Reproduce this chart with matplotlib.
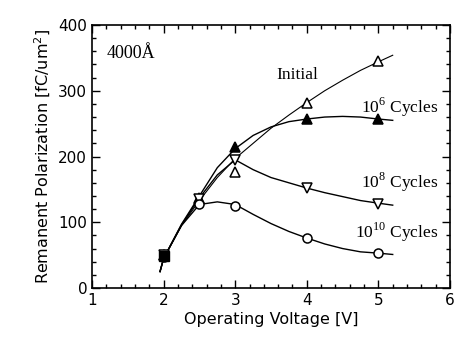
import numpy as np
import matplotlib.pyplot as plt
from matplotlib.ticker import MultipleLocator

plt.rcParams['mathtext.fontset'] = 'custom'
plt.rcParams['mathtext.rm'] = 'Liberation Serif'
plt.rcParams['mathtext.sf'] = 'DejaVu Sans'

# measured points
volts = [2, 2.5, 3, 4, 5]
p_initial = [50, 135, 176, 282, 345]
p_1e6 = [50, 137, 215, 257, 257]
p_1e8 = [50, 135, 195, 152, 128]
p_1e10 = [47, 128, 125, 76, 53]

# fitted curves
curve_x = [1.95, 2, 2.25, 2.5, 2.75, 3, 3.25, 3.5, 3.75, 4, 4.25, 4.5, 4.75, 5, 5.2]
curve_initial = [25, 45, 95, 133, 168, 197, 220, 243, 263, 282, 300, 316, 331, 344, 354]
curve_1e6 = [25, 45, 97, 140, 183, 212, 232, 245, 253, 257, 260, 261, 260, 257, 255]
curve_1e8 = [25, 45, 96, 137, 172, 195, 180, 168, 160, 152, 145, 139, 133, 129, 126]
curve_1e10 = [25, 45, 95, 127, 131, 127, 112, 98, 86, 76, 67, 60, 55, 53, 51]

fig = plt.figure(figsize=(4.56, 3.37), dpi=100)
ax = fig.add_axes([0.2018, 0.1454, 0.785, 0.7804])

ax.plot(curve_x, curve_initial, color='black', lw=0.8)
ax.plot(curve_x, curve_1e6, color='black', lw=1.0)
ax.plot(curve_x, curve_1e8, color='black', lw=1.0)
ax.plot(curve_x, curve_1e10, color='black', lw=1.0)

ms = 6.5
ax.plot(volts, p_initial, ls='none', marker='^', ms=ms, mfc='white', mec='black', mew=1.1)
ax.plot(volts, p_1e6, ls='none', marker='^', ms=ms, mfc='black', mec='black', mew=1.1)
ax.plot(volts, p_1e8, ls='none', marker='v', ms=ms, mfc='white', mec='black', mew=1.1)
ax.plot(volts, p_1e10, ls='none', marker='o', ms=ms, mfc='white', mec='black', mew=1.1)
ax.plot([2], [48], ls='none', marker='s', ms=7, color='black')

ax.set_xlim(1, 6)
ax.set_ylim(0, 400)
ax.xaxis.set_major_locator(MultipleLocator(1))
ax.xaxis.set_minor_locator(MultipleLocator(0.2))
ax.yaxis.set_major_locator(MultipleLocator(100))
ax.yaxis.set_minor_locator(MultipleLocator(20))
ax.tick_params(which='both', direction='in', top=True, right=True, labelsize=11, width=1.0)
ax.tick_params(which='major', length=6)
ax.tick_params(which='minor', length=3)
for s in ax.spines.values():
    s.set_linewidth(1.2)

ax.set_xlabel('Operating Voltage [V]', fontsize=11.5, labelpad=3)
ax.set_ylabel('Remanent Polarization [fC/um$^\\mathsf{2}$]', fontsize=11.5, labelpad=4)

serif = 'Liberation Serif'
ax.text(1.21, 357, '4000Å', fontsize=13, family=serif, va='center')
ax.text(3.57, 324, 'Initial', fontsize=12.5, family=serif, va='center')
ax.text(5.83, 274, '10$^6$ Cycles', fontsize=12.5, family=serif, va='center', ha='right')
ax.text(5.83, 160, '10$^8$ Cycles', fontsize=12.5, family=serif, va='center', ha='right')
ax.text(5.83, 84, '10$^{10}$ Cycles', fontsize=12.5, family=serif, va='center', ha='right')

fig.savefig('out.png', dpi=100)
